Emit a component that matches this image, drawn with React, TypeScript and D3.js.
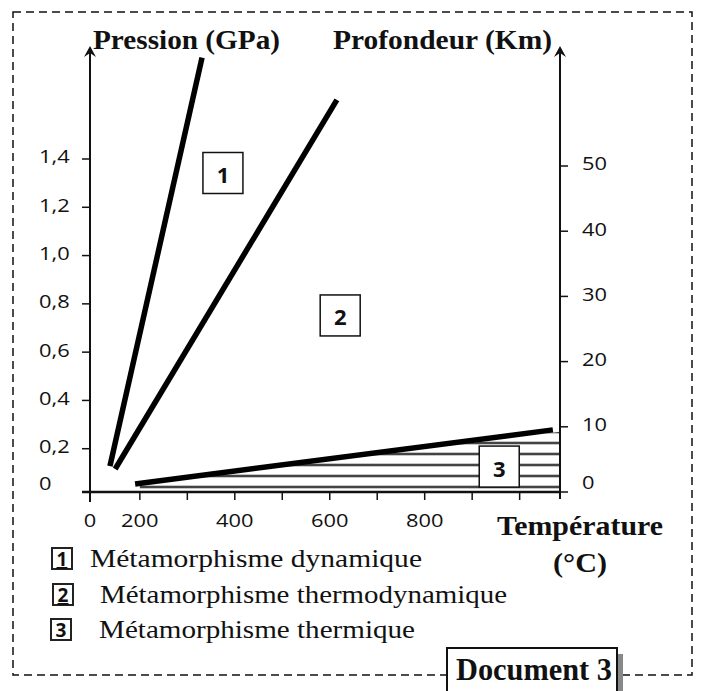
import * as d3 from 'd3';

// temperature (°C), pressure (GPa), depth (km)
const tempTicks = [200, 300, 400, 500, 600, 700, 800, 900, 1000];
const tempLabels = [200, 400, 600, 800];
const pressureTicks = [0.2, 0.4, 0.6, 0.8, 1.0, 1.2, 1.4];
const depthTicks = [0, 10, 20, 30, 40, 50];

const dynamicLine: [number, number][] = [[137, 0.128], [331, 1.82]];
const thermoLine: [number, number][] = [[148, 0.116], [615, 1.645]];
const thermalLine: [number, number][] = [[190, 0.054], [1070, 0.278]];
const thermalZone: [number, number][] = [[200, 0.02], [200, 0.056], [1085, 0.27], [1085, 0.02]];

const zoneIds = ['1', '2', '3'];
const zoneTemps = [375, 622, 957];
const zonePressures = [1.342, 0.752, 0.126];

const legendLabels = [
  'Métamorphisme dynamique',
  'Métamorphisme thermodynamique',
  'Métamorphisme thermique',
];

const W = 701;
const H = 691;

const tScale = d3.scaleLinear().domain([95, 1085]).range([90, 560]);
const pScale = d3.scaleLinear().domain([0, 1.4]).range([497, 159]);
const dScale = d3.scaleLinear().domain([0, 50]).range([492, 166]);

const fmtP = (v: number) => d3.format('.1f')(v).replace('.', ',');

const serif = '"Liberation Serif", "Times New Roman", serif';
const sans = '"Open Sans", "Noto Sans", sans-serif';

function Stretch({ x, y, sx = 1.15, anchor = 'start', size = 19, children }:
  { x: number; y: number; sx?: number; anchor?: string; size?: number; children: any; }) {
  return (
    <text
      transform={`translate(${x},${y}) scale(${sx},1)`}
      textAnchor={anchor as any}
      dominantBaseline="central"
      fontFamily={sans}
      fontSize={size}
      fill="#111"
    >
      {children}
    </text>
  );
}

export default function App() {
  const line = d3.line<[number, number]>()
    .x(d => tScale(d[0]))
    .y(d => pScale(d[1]));

  const baseY = dScale(0);
  const leftX = tScale.range()[0];
  const rightX = tScale.range()[1];
  const topY = 46;

  const legendY = [558, 594, 629];
  const legendBoxX = [52, 53, 51];
  const legendTextX = [90, 100, 99];
  const legendWidths = [332, 407, 316];

  return (
    <svg
      width={W}
      height={H}
      style={{ position: 'absolute', left: 0, top: 0, background: '#fff' }}
    >
      <defs>
        <pattern id="hatch" patternUnits="userSpaceOnUse" width={10} height={11}>
          <rect width={10} height={11} fill="#fff" />
          <line x1={0} x2={10} y1={3} y2={3} stroke="#444" strokeWidth={2.6} />
        </pattern>
      </defs>

      {/* dashed frame */}
      <rect x={13} y={12} width={679} height={663} fill="none"
        stroke="#111" strokeWidth={1.5} strokeDasharray="8,5" />

      {/* thermal zone hatching */}
      <path d={line(thermalZone) + 'Z'} fill="url(#hatch)" />

      {/* axes */}
      <line x1={leftX} x2={leftX} y1={baseY + 10} y2={topY + 4} stroke="#111" strokeWidth={2} />
      <path d={`M${leftX},${topY} L${leftX + 6},${topY + 11} L${leftX},${topY + 7} L${leftX - 6},${topY + 11}Z`} fill="#111" />
      <line x1={rightX} x2={rightX} y1={baseY + 7} y2={topY + 4} stroke="#111" strokeWidth={2} />
      <path d={`M${rightX},${topY} L${rightX + 6},${topY + 11} L${rightX},${topY + 7} L${rightX - 6},${topY + 11}Z`} fill="#111" />
      <line x1={leftX - 8} x2={rightX} y1={baseY} y2={baseY} stroke="#111" strokeWidth={2.4} />

      {/* pressure ticks */}
      {pressureTicks.map(v => (
        <g key={v}>
          <line x1={leftX - 8} x2={leftX} y1={pScale(v)} y2={pScale(v)} stroke="#111" strokeWidth={1.5} />
          <Stretch x={39} y={pScale(v) - 3}>{fmtP(v)}</Stretch>
        </g>
      ))}
      <Stretch x={39} y={baseY - 9}>0</Stretch>

      {/* depth ticks */}
      {depthTicks.map(v => (
        <g key={v}>
          <line x1={rightX} x2={rightX + 8} y1={dScale(v)} y2={dScale(v)} stroke="#111" strokeWidth={1.5} />
          <Stretch x={582} y={v === 0 ? baseY - 10 : dScale(v) - 3}>{v}</Stretch>
        </g>
      ))}

      {/* temperature ticks */}
      {tempTicks.map(v => (
        <line key={v} x1={tScale(v)} x2={tScale(v)} y1={baseY} y2={baseY + 8} stroke="#111" strokeWidth={1.5} />
      ))}
      {tempLabels.map(v => (
        <Stretch key={v} x={tScale(v)} y={520} anchor="middle">{v}</Stretch>
      ))}
      <Stretch x={leftX} y={520} anchor="middle">0</Stretch>

      {/* gradient lines */}
      {[dynamicLine, thermoLine, thermalLine].map((d, i) => (
        <path key={i} d={line(d) || ''} fill="none" stroke="#000" strokeWidth={5.5} />
      ))}

      {/* zone boxes */}
      {zoneIds.map((id, i) => {
        const cx = tScale(zoneTemps[i]);
        const cy = pScale(zonePressures[i]);
        return (
          <g key={id}>
            <rect x={cx - 20} y={cy - 20.5} width={40} height={41} fill="#fff" stroke="#111" strokeWidth={1.5} />
            <text x={cx} y={cy + 1} textAnchor="middle" dominantBaseline="central"
              fontFamily={sans} fontWeight="bold" fontSize={22} fill="#111">{id}</text>
          </g>
        );
      })}

      {/* axis titles */}
      <text x={93} y={49} fontFamily={serif} fontWeight="bold" fontSize={27}
        textLength={187} lengthAdjust="spacingAndGlyphs" fill="#111">Pression (GPa)</text>
      <text x={333} y={49} fontFamily={serif} fontWeight="bold" fontSize={27}
        textLength={219} lengthAdjust="spacingAndGlyphs" fill="#111">Profondeur (Km)</text>
      <text x={497} y={535} fontFamily={serif} fontWeight="bold" fontSize={27}
        textLength={166} lengthAdjust="spacingAndGlyphs" fill="#111">Température</text>
      <text x={553} y={572} fontFamily={serif} fontWeight="bold" fontSize={27}
        textLength={54} lengthAdjust="spacingAndGlyphs" fill="#111">(°C)</text>

      {/* legend */}
      {legendLabels.map((label, i) => (
        <g key={label}>
          <rect x={legendBoxX[i]} y={legendY[i] - 10} width={20} height={21}
            fill="#fff" stroke="#222" strokeWidth={2} />
          <text x={legendBoxX[i] + 10} y={legendY[i] + 8} textAnchor="middle"
            fontFamily={sans} fontWeight="bold" fontSize={19}
            textDecoration={i < 2 ? 'underline' : 'none'} fill="#111">{zoneIds[i]}</text>
          <text x={legendTextX[i]} y={legendY[i] + 9} fontFamily={serif} fontSize={25}
            textLength={legendWidths[i]} lengthAdjust="spacingAndGlyphs" fill="#111">{label}</text>
        </g>
      ))}

      {/* document tag */}
      <rect x={617} y={654} width={6} height={40} fill="#888" />
      <rect x={447} y={648} width={170} height={50} fill="#fff" stroke="#111" strokeWidth={2} />
      <text x={456} y={680} fontFamily={serif} fontWeight="bold" fontSize={31}
        textLength={156} lengthAdjust="spacingAndGlyphs" fill="#111">Document 3</text>
    </svg>
  );
}
